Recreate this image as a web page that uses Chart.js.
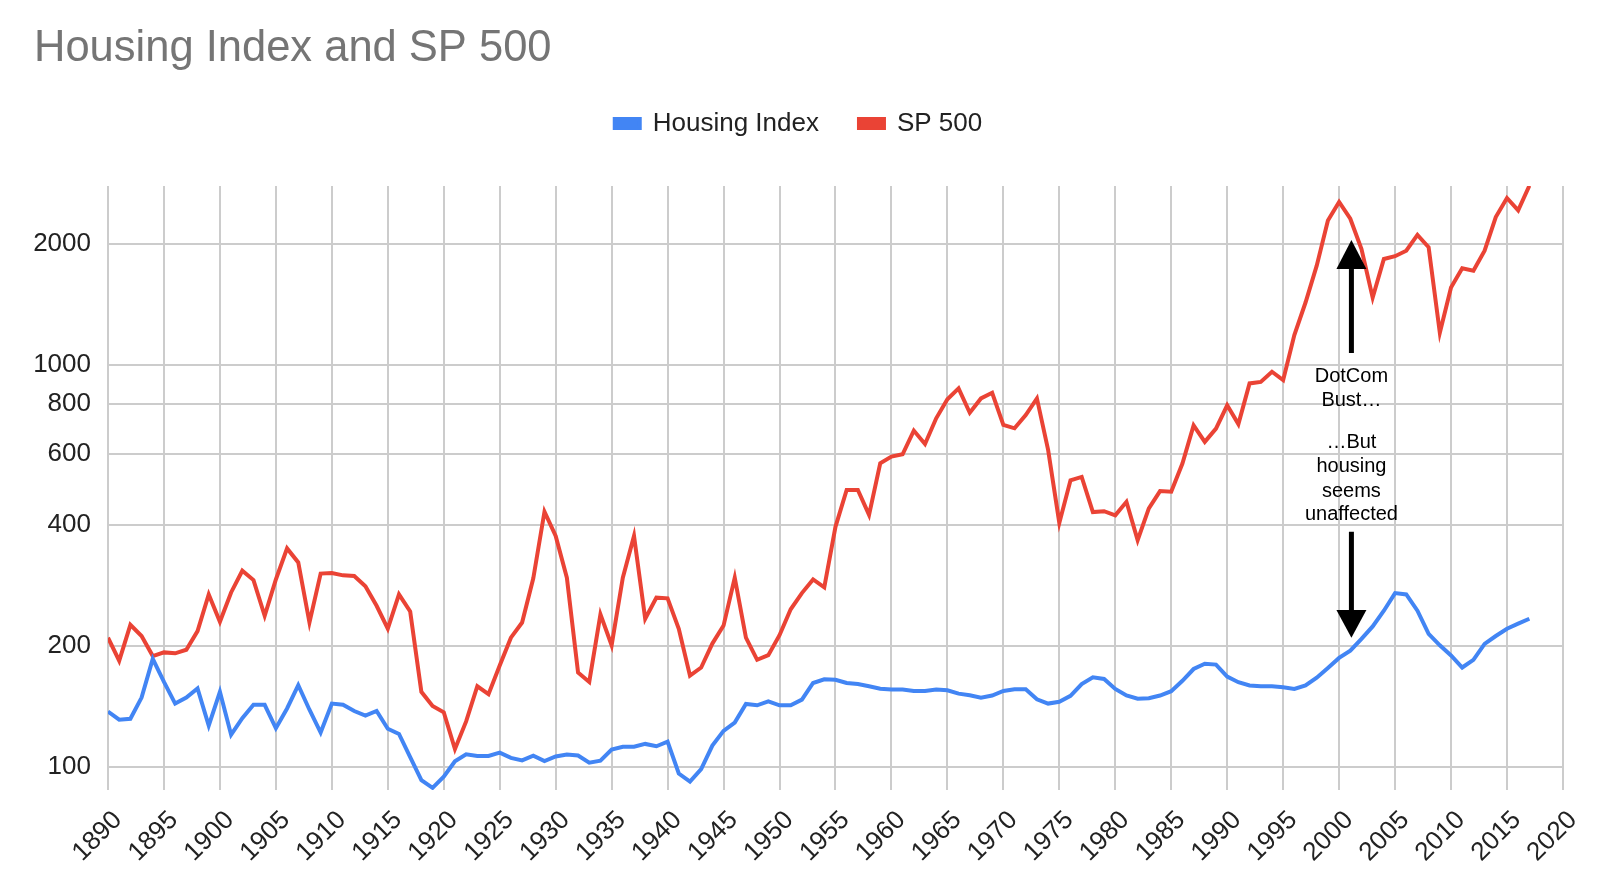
<!DOCTYPE html>
<html>
<head>
<meta charset="utf-8">
<title>Housing Index and SP 500</title>
<script src="https://cdn.jsdelivr.net/npm/chart.js@4.4.1/dist/chart.umd.min.js"></script>
<style>
	html, body { margin: 0; padding: 0; background: #ffffff; }
	#wrap { width: 1600px; height: 879px; }
</style>
</head>
<body>
<div id="wrap"><canvas id="housingChart" width="1600" height="879"></canvas></div>
<script>
/* ---------------------
	Housing Index and SP 500 (log scale)
 ---------------------- */

	// years on the x axis (one point per year)
	const years = [
		1890, 1891, 1892, 1893, 1894, 1895, 1896, 1897, 1898, 1899,
		1900, 1901, 1902, 1903, 1904, 1905, 1906, 1907, 1908, 1909,
		1910, 1911, 1912, 1913, 1914, 1915, 1916, 1917, 1918, 1919,
		1920, 1921, 1922, 1923, 1924, 1925, 1926, 1927, 1928, 1929,
		1930, 1931, 1932, 1933, 1934, 1935, 1936, 1937, 1938, 1939,
		1940, 1941, 1942, 1943, 1944, 1945, 1946, 1947, 1948, 1949,
		1950, 1951, 1952, 1953, 1954, 1955, 1956, 1957, 1958, 1959,
		1960, 1961, 1962, 1963, 1964, 1965, 1966, 1967, 1968, 1969,
		1970, 1971, 1972, 1973, 1974, 1975, 1976, 1977, 1978, 1979,
		1980, 1981, 1982, 1983, 1984, 1985, 1986, 1987, 1988, 1989,
		1990, 1991, 1992, 1993, 1994, 1995, 1996, 1997, 1998, 1999,
		2000, 2001, 2002, 2003, 2004, 2005, 2006, 2007, 2008, 2009,
		2010, 2011, 2012, 2013, 2014, 2015, 2016, 2017
	];

	const housingIndex = [
		137.6, 131.3, 132, 149, 186, 163, 144, 149, 157, 127,
		154, 120.5, 132.5, 143, 143, 125, 140, 160, 139, 122,
		144, 143, 138, 134.5, 138, 124.7, 121, 106, 92.9, 88.9,
		94.7, 103.5, 107.7, 106.7, 106.7, 108.7, 105.5, 104, 106.9, 103.6,
		106.4, 107.6, 107, 102.7, 103.8, 110.7, 112.5, 112.5, 114.3, 112.8,
		115.8, 96.5, 92.1, 98.9, 113.2, 123.2, 129.1, 143.7, 142.6, 145.9,
		142.6, 142.6, 147.3, 162, 165.4, 165, 162, 161, 159, 156.8,
		156, 156, 154.8, 154.8, 156, 155.4, 152.4, 151, 149, 150.8,
		154.8, 156.3, 156.3, 147.6, 144, 145.5, 150.5, 161, 167.4, 165.8,
		156.6, 150.8, 148, 148.4, 150.8, 154.6, 164, 175.5, 180.8, 180,
		168, 162.7, 159.7, 159, 159, 158, 156.6, 159.7, 167, 176.6,
		187, 195, 208.6, 224, 245, 271, 269, 245, 214.6, 201,
		189.6, 177, 185, 202.7, 212, 221, 227.5, 234
	];

	const sp500 = [
		210, 184, 226, 212, 189, 193, 192, 196, 218, 269,
		230, 272, 308, 292, 238, 293, 350, 323, 229, 303,
		304, 300, 299, 282, 252, 221, 269, 244, 154, 142,
		137, 111, 130, 159, 152, 179, 210, 229, 295, 432,
		376, 296, 172, 163, 240, 201, 296, 376, 234, 264,
		263, 221, 169, 177, 203, 225, 296, 210, 185, 190,
		213, 247, 271, 293, 280, 396, 489, 489, 424, 570,
		592, 600, 687, 636, 737, 822, 875, 761, 826, 853,
		710, 696, 751, 826, 615, 405, 517, 527, 431, 433,
		423, 457, 367, 440, 486, 484, 569, 708, 644, 695,
		794, 713, 900, 908, 962, 917, 1187, 1430, 1766, 2288,
		2543, 2310, 1943, 1471, 1835, 1864, 1924, 2106, 1962, 1203,
		1559, 1739, 1716, 1924, 2332, 2601, 2424, 2790
	];

	// y axis tick labels (log scale)
	const yTicks = [100, 200, 400, 600, 800, 1000, 2000];

	// annotation text, placed at year 2001
	const noteYear = 2001.1;
	const noteLines = ["DotCom", "Bust\u2026", "\u2026But", "housing", "seems", "unaffected"];
	const noteBaselines = [905, 793, 622, 541, 471, 411];
	// arrows : [shaft start, head base, tip]
	const upArrow = [1071, 1732, 2045];
	const downArrow = [385, 246, 210];

	Chart.defaults.font.family = "'Liberation Sans', Arial, Helvetica, sans-serif";

	/**
	 * Draw one vertical arrow at pixel x
	 */
	function drawArrow(ctx, px, yStart, yBase, yTip) {
		ctx.save();
		ctx.strokeStyle = "#000";
		ctx.fillStyle = "#000";
		ctx.lineWidth = 5;
		ctx.beginPath();
		ctx.moveTo(px, yStart);
		ctx.lineTo(px, yBase);
		ctx.stroke();
		ctx.beginPath();
		ctx.moveTo(px - 15, yBase);
		ctx.lineTo(px + 15, yBase);
		ctx.lineTo(px, yTip);
		ctx.closePath();
		ctx.fill();
		ctx.restore();
	}

	// DotCom annotation
	const dotcomNote = {
		id: "dotcomNote",
		afterDatasetsDraw(chart) {
			const ctx = chart.ctx;
			const xs = chart.scales.x;
			const ys = chart.scales.y;
			let px = xs.getPixelForValue(noteYear);

			drawArrow(ctx, px, ys.getPixelForValue(upArrow[0]), ys.getPixelForValue(upArrow[1]), ys.getPixelForValue(upArrow[2]));
			drawArrow(ctx, px, ys.getPixelForValue(downArrow[0]), ys.getPixelForValue(downArrow[1]), ys.getPixelForValue(downArrow[2]));

			ctx.save();
			ctx.fillStyle = "#000";
			ctx.font = "20px 'Liberation Sans', Arial, sans-serif";
			ctx.textAlign = "center";
			ctx.textBaseline = "alphabetic";
			noteLines.forEach((t, i) => {
				ctx.fillText(t, px, ys.getPixelForValue(noteBaselines[i]));
			});
			ctx.restore();
		}
	};

	// extra space between the legend and the plot
	const legendGap = {
		id: "legendGap",
		beforeInit(chart) {
			const fitValue = chart.legend.fit;
			chart.legend.fit = function fit() {
				fitValue.bind(chart.legend)();
				this.height += 39.5;
			};
		}
	};

	const ctx = document.getElementById("housingChart");
	window.chart = new Chart(ctx, {
		type: "line",
		data: {
			datasets: [
				{
					label: "Housing Index",
					data: years.map((yr, i) => ({ x: yr, y: housingIndex[i] })),
					borderColor: "#4285F4",
					backgroundColor: "#4285F4",
					borderWidth: 4,
					pointRadius: 0,
					tension: 0
				},
				{
					label: "SP 500",
					data: years.map((yr, i) => ({ x: yr, y: sp500[i] })),
					borderColor: "#EA4335",
					backgroundColor: "#EA4335",
					borderWidth: 4,
					pointRadius: 0,
					tension: 0
				}
			]
		},
		options: {
			responsive: false,
			animation: false,
			devicePixelRatio: 1,
			layout: { padding: { left: 34, right: 37, top: 0, bottom: 0 } },
			plugins: {
				title: {
					display: true,
					text: "Housing Index and SP 500",
					align: "start",
					color: "#757575",
					font: { size: 43.5, weight: "normal", lineHeight: 1.0 },
					padding: { top: 27, bottom: 0 }
				},
				legend: {
					position: "top",
					labels: {
						boxWidth: 25,
						boxHeight: 9,
						color: "#222",
						font: { size: 26 },
						padding: 40
					}
				},
				tooltip: { enabled: false }
			},
			scales: {
				x: {
					type: "linear",
					min: 1890,
					max: 2020,
					ticks: {
						stepSize: 5,
						autoSkip: false,
						minRotation: 45,
						maxRotation: 45,
						color: "#222",
						font: { size: 26 },
						padding: 15,
						labelOffset: 10,
						callback: (v) => String(v)
					},
					grid: { color: "#cccccc", lineWidth: 2, drawTicks: false },
					border: { display: false },
					afterFit: (s) => { s.height = 89; }
				},
				y: {
					type: "logarithmic",
					min: 87.8,
					max: 2786,
					afterBuildTicks: (s) => { s.ticks = yTicks.map((v) => ({ value: v })); },
					ticks: {
						color: "#222",
						font: { size: 26 },
						padding: 17,
						callback: (v) => String(v)
					},
					grid: { color: "#cccccc", lineWidth: 2, drawTicks: false },
					border: { display: false },
					afterFit: (s) => { s.width = 74; }
				}
			}
		},
		plugins: [legendGap, dotcomNote]
	});
</script>
</body>
</html>
